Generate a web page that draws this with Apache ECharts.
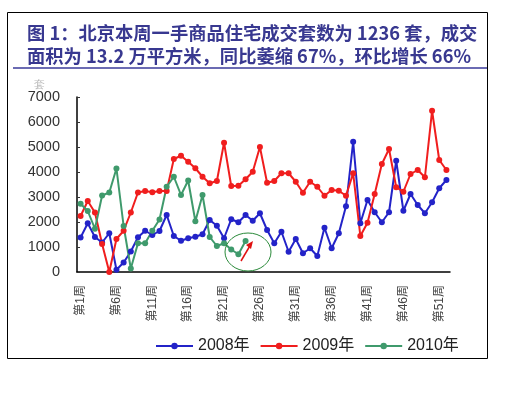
<!DOCTYPE html>
<html><head><meta charset="utf-8">
<script src="https://cdn.jsdelivr.net/npm/echarts@6/dist/echarts.min.js"></script>
<style>html,body{margin:0;padding:0;background:#fff}#c{width:515px;height:395px}</style>
</head><body><div id="c"></div>
<script>
var weeks = [];
for (var i = 1; i <= 52; i++) weeks.push('第' + i + '周');
var s2008 = [1380,1950,1400,1180,1550,90,380,820,1390,1650,1480,1640,2280,1440,1250,1350,1410,1510,2080,1850,1350,2110,1990,2280,2050,2350,1680,1150,1610,810,1320,750,950,640,1770,950,1550,2630,5210,1950,2880,2390,1990,2390,4450,2450,3120,2680,2350,2790,3350,3680];
var s2009 = [2240,2840,2380,1120,0,1320,1650,2380,3180,3240,3190,3240,3240,4520,4650,4410,4150,3810,3550,3640,5170,3440,3450,3710,4010,5000,3570,3640,3950,3950,3610,3170,3610,3410,3050,3280,3250,3050,3950,1440,1970,3120,4320,4920,3390,3210,3920,4080,3790,6450,4480,4080];
var s2010 = [2730,2440,1730,3060,3180,4140,1840,140,1150,1150,1650,2100,3410,3810,3080,3660,2030,3080,1400,1040,1150,900,710,1236];
var seriesNames = ['2008年','2009年','2010年'];
var colors = ['#2323c8','#f01e1e','#3f9a6c'];
var yTicks = {min:0, max:7000, interval:1000};

var chart = echarts.init(document.getElementById('c'), null, {renderer:'canvas'});
function mk(name, data, color) {
  return {name:name, type:'line', data:data, symbol:'circle', symbolSize:6, showAllSymbol:true,
    lineStyle:{color:color, width:2}, itemStyle:{color:color}, animation:false};
}
chart.setOption({
  backgroundColor:'#fff',
  animation:false,
  title:{text:'图 1：北京本周一手商品住宅成交套数为 1236 套，成交\n面积为 13.2 万平方米，同比萎缩 67%，环比增长 66%',
    left:22, top:17,
    textStyle:{fontFamily:'Noto Sans CJK SC', fontWeight:'bold', fontSize:18.3, lineHeight:23, color:'#383890'}},
  grid:{left:77, right:65, top:97, bottom:123},
  legend:{data:seriesNames, left:150, top:333, itemWidth:37, itemHeight:8, itemGap:10,
    textStyle:{fontFamily:'Arial, Liberation Sans, Noto Sans CJK SC', fontSize:16, color:'#222'}},
  xAxis:{type:'category', data:weeks, boundaryGap:true,
    axisLine:{lineStyle:{color:'#000', width:1.5}},
    axisTick:{inside:true, interval:0, length:3, lineStyle:{color:'#333'}},
    axisLabel:{interval:4, rotate:90, margin:13, fontSize:12, color:'#444',
      fontFamily:'Arial, Liberation Sans, Noto Sans CJK SC'}},
  yAxis:{type:'value', min:yTicks.min, max:yTicks.max, interval:yTicks.interval,
    axisLine:{show:true, lineStyle:{color:'#000', width:1.5}},
    axisTick:{show:true, inside:true, length:3, lineStyle:{color:'#333'}},
    splitLine:{show:false},
    axisLabel:{margin:17, fontSize:14.5, color:'#333', fontFamily:'Arial, Liberation Sans',
      formatter:function(v){return String(v);}}},
  series:[mk(seriesNames[0], s2008, colors[0]), mk(seriesNames[1], s2009, colors[1]), mk(seriesNames[2], s2010, colors[2])],
  graphic:[
    {type:'rect', shape:{x:7.5, y:12.5, width:480, height:346}, style:{fill:'none', stroke:'#000', lineWidth:1}, silent:true},
    {type:'rect', shape:{x:13, y:67, width:474, height:2}, style:{fill:'#6b6bb3'}, silent:true},
    {type:'text', x:34, y:79, style:{text:'套', fontSize:11, fill:'#bbb', font:'11px Noto Sans CJK SC'}, silent:true},
    {type:'ellipse', shape:{cx:248, cy:252, rx:23, ry:19}, style:{fill:'none', stroke:'#2a8a3a', lineWidth:1}, z:10},
    {type:'line', shape:{x1:241, y1:261, x2:251, y2:244}, style:{stroke:'#e01010', lineWidth:1.5}, z:10},
    {type:'polygon', shape:{points:[[253,241],[246,245],[251,249]]}, style:{fill:'#e01010'}, z:10}
  ]
});
</script></body></html>
